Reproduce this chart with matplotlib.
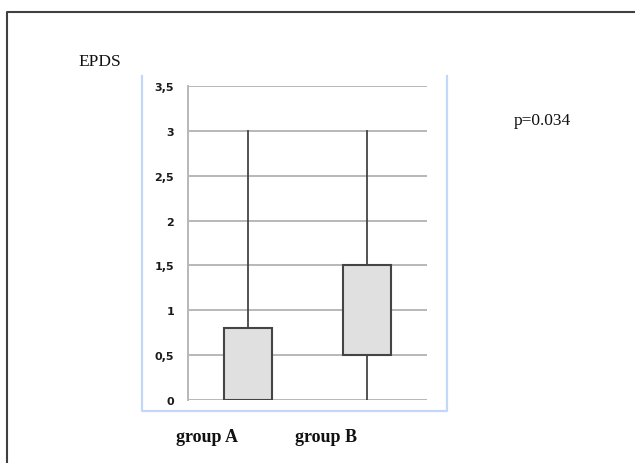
import matplotlib.pyplot as plt
from matplotlib.lines import Line2D

# box statistics
groups = ['group A', 'group B']
q1 = [0.0, 0.5]
q3 = [0.8, 1.5]
med = [0.0, 0.5]
whislo = [0.0, 0.0]
whishi = [3.0, 3.0]
yticks = [0, 0.5, 1, 1.5, 2, 2.5, 3, 3.5]
ytick_labels = ['0', '0,5', '1', '1,5', '2', '2,5', '3', '3,5']
p_text = 'p=0.034'

fig = plt.figure(figsize=(6.35, 4.64), dpi=100)
ax = fig.add_axes([0.296, 0.1358, 0.3764, 0.6767])

stats = []
for i in range(len(groups)):
    stats.append({'label': groups[i], 'q1': q1[i], 'q3': q3[i], 'med': med[i],
                  'whislo': whislo[i], 'whishi': whishi[i], 'fliers': []})

ax.bxp(stats, positions=[1, 2], widths=0.4, patch_artist=True, showcaps=False,
       boxprops=dict(facecolor='#e0e0e0', edgecolor='#444444', linewidth=1.5),
       whiskerprops=dict(color='#444444', linewidth=1.3),
       medianprops=dict(linewidth=0), zorder=3)

ax.set_xlim(0.5, 2.5)
ax.set_ylim(0, 3.5)
ax.set_yticks(yticks)
ax.set_yticklabels(ytick_labels, fontsize=8, fontweight='bold', color='#1a1a1a')
ax.set_xticks([])
ax.tick_params(axis='y', length=0, pad=10)
ax.grid(axis='y', color='#b8b8b8', linewidth=1.4, zorder=0)
ax.set_axisbelow(True)
for s in ['top', 'right', 'bottom']:
    ax.spines[s].set_visible(False)
ax.spines['left'].set_color('#b8b8b8')
ax.spines['left'].set_linewidth(1.4)

# light blue chart frame (left, bottom, right)
blue = '#c2d8f8'
fig.add_artist(Line2D([0.2244, 0.2244, 0.7047, 0.7047], [0.834, 0.112, 0.112, 0.834],
                      color=blue, linewidth=1.6, transform=fig.transFigure))

# outer dark frame
fig.add_artist(Line2D([0.0118, 0.0118, 1.0], [0.0, 0.972, 0.972],
                      color='#404040', linewidth=1.5, transform=fig.transFigure))

fig.text(0.157, 0.866, 'EPDS', fontsize=12.5, family='Liberation Serif',
         ha='center', va='center', color='#111111')
fig.text(0.854, 0.739, p_text, fontsize=12.5, family='Liberation Serif',
         ha='center', va='center', color='#111111')
fig.text(0.326, 0.058, groups[0], fontsize=13, fontweight='bold',
         family='Liberation Serif', ha='center', va='center', color='#111111')
fig.text(0.513, 0.058, groups[1], fontsize=13, fontweight='bold',
         family='Liberation Serif', ha='center', va='center', color='#111111')

fig.savefig('out.png', dpi=100)
